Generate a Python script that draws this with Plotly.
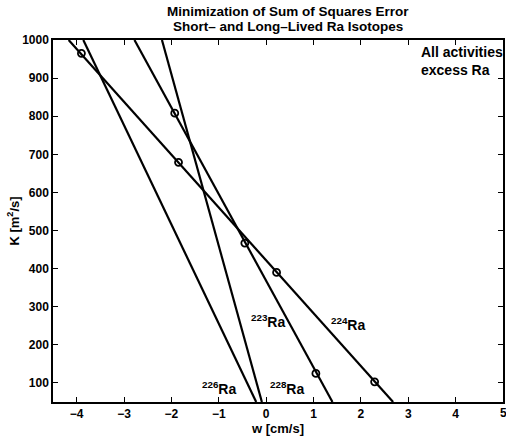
import plotly.graph_objects as go

# Line end points (K = 1000 and K = 50)
K_ends = [1000, 50]
w_226 = [-3.86, -0.21]
w_228 = [-2.20, -0.09]
w_223 = [-2.78, 1.40]
w_224 = [-4.17, 2.68]

# circle markers
w_223_pts = [-1.93, -0.45, 1.05]
K_223_pts = [808, 467, 125]
w_224_pts = [-3.90, -1.85, 0.22, 2.29]
K_224_pts = [965, 679, 390, 103]

# labels
lab_text = ["<sup>226</sup>Ra", "<sup>228</sup>Ra", "<sup>223</sup>Ra", "<sup>224</sup>Ra"]
lab_w = [-1.0, 0.44, 0.04, 1.72]
lab_K = [86, 86, 262, 254]

title_lines = ["Minimization of Sum of Squares Error", "Short\u2013 and Long\u2013Lived Ra Isotopes"]

x_ticks = [-4, -3, -2, -1, 0, 1, 2, 3, 4, 5]
y_ticks = [100, 200, 300, 400, 500, 600, 700, 800, 900, 1000]

FONT = "Liberation Sans, Arial, Helvetica, sans-serif"
W, H = 506, 439
ML, MR, MT, MB = 53, 1, 40, 37
PH = H - MT - MB

fig = go.Figure()
line_style = dict(color="black", width=2.2)
for w in [w_226, w_228, w_223, w_224]:
    fig.add_trace(go.Scatter(x=w, y=K_ends, mode="lines", line=line_style,
                             showlegend=False, hoverinfo="skip"))
for wp, kp in [(w_223_pts, K_223_pts), (w_224_pts, K_224_pts)]:
    fig.add_trace(go.Scatter(x=wp, y=kp, mode="markers",
                             marker=dict(symbol="circle-open", size=7, color="black",
                                         line=dict(width=1.8, color="black")),
                             showlegend=False, hoverinfo="skip"))

for t, x, y in zip(lab_text, lab_w, lab_K):
    fig.add_annotation(x=x, y=y, text=t, showarrow=False,
                       font=dict(family=FONT, size=14, color="black", weight="bold"))

fig.add_annotation(x=3.22, y=996, xanchor="left", yanchor="top", align="left",
                   text="All activities<br>excess Ra", showarrow=False,
                   font=dict(family=FONT, size=14, color="black", weight="bold"))

# title lines
for i, (t, ypx) in enumerate(zip(title_lines, [12, 27])):
    fig.add_annotation(xref="paper", yref="paper", x=(289 - ML) / (W - ML - MR),
                       y=1 + (MT - ypx) / PH, xanchor="center", yanchor="middle",
                       text=t, showarrow=False,
                       font=dict(family=FONT, size=13.5, color="black", weight="bold"))

# last x tick label (partially cut at the page edge, as in the reference)
fig.add_annotation(x=x_ticks[-1], xref="x", yref="paper", y=-11 / PH,
                   xanchor="center", yanchor="middle", text=str(x_ticks[-1]),
                   showarrow=False,
                   font=dict(family=FONT, size=12, color="black", weight="bold"))

axis_common = dict(showline=True, linecolor="black", linewidth=1.5, mirror="ticks",
                   ticks="inside", ticklen=5, tickwidth=1, tickcolor="black",
                   showgrid=False, zeroline=False,
                   tickfont=dict(family=FONT, size=12, color="black", weight="bold"))

fig.update_xaxes(range=[-4.5, 5], tickvals=x_ticks,
                 ticktext=[("\u2212" + str(-v)) if v < 0 else str(v) for v in x_ticks],
                 title=dict(text="w [cm/s]", standoff=2,
                            font=dict(family=FONT, size=13, color="black", weight="bold")),
                 **axis_common)
fig.update_yaxes(range=[50, 1000], tickvals=y_ticks,
                 title=dict(text="K [m<sup>2</sup>/s]", standoff=0,
                            font=dict(family=FONT, size=13, color="black", weight="bold")),
                 **axis_common)

fig.update_layout(
    width=W, height=H,
    margin=dict(l=ML, r=MR, t=MT, b=MB),
    paper_bgcolor="white", plot_bgcolor="white",
)

fig.write_html("out.html")
